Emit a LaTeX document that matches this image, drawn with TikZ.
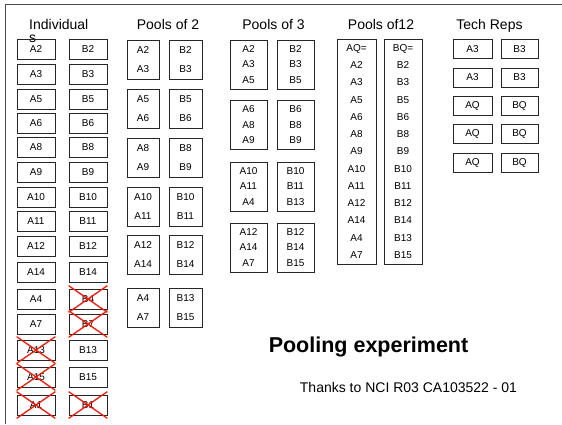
\documentclass[tikz,border=0pt]{standalone}
\usepackage{fontspec}
\setmainfont{Liberation Sans}
\begin{document}
\begin{tikzpicture}[x=1pt,y=-1pt,
  box/.style={draw=black!85, line width=0.75pt, inner sep=0pt, align=center},
  ind/.style={box, minimum width=38pt, minimum height=20pt, font=\fontsize{10}{12}\selectfont},
  pairbox/.style={box, minimum height=39pt, font=\fontsize{10}{19}\selectfont},
  tripbox/.style={box, minimum width=37pt, minimum height=49pt, font=\fontsize{10}{15.5}\selectfont},
  bigbox/.style={box, minimum height=225pt, font=\fontsize{10}{17.25}\selectfont},
  rep/.style={box, minimum height=19pt, font=\fontsize{10}{12}\selectfont},
  head/.style={inner sep=0pt, anchor=base, font=\fontsize{14}{13}\selectfont},
  strike/.style={draw=red!85!orange, line width=1.3pt},
  frame/.style={draw=black!70, line width=0.9pt}]
\useasboundingbox (0,0) rectangle (562,424);

% page frame (top and left edges)
\draw[frame] (5,424) -- (5,4) -- (562,4);

% column headings
\node[inner sep=0pt, anchor=north west, align=left,
      font=\fontsize{14}{13.5}\selectfont] (hInd) at (29,19) {Individual\\s};
\node[head] (hP2) at (168,29) {Pools of 2};
\node[head] (hP3) at (273.5,29) {Pools of 3};
\node[head] (hP12) at (381,29) {Pools of12};
\node[head] (hTR) at (489.5,29) {Tech Reps};

% individual samples
\foreach \l/\r/\y in {A2/B2/49, A3/B3/74, A5/B5/99, A6/B6/123, A8/B8/147.5,
    A9/B9/172, A10/B10/197, A11/B11/221.5, A12/B12/246.5, A14/B14/272,
    A4/B4/299, A7/B7/324, A13/B13/350, A15/B15/377, A1/B1/405} {
  \node[ind] (ind\l) at (36,\y) {\l};
  \node[ind] (ind\r) at (88,\y) {\r};
}

% excluded samples
\foreach \n in {indB4, indB7, indA13, indA15, indA1, indB1} {
  \draw[strike] ([shift={(0,-3)}]\n.north west) -- ([shift={(0,3)}]\n.south east)
                ([shift={(0,-3)}]\n.north east) -- ([shift={(0,3)}]\n.south west);
}

% pools of 2
\foreach \i/\l/\r/\y in {1/{A2\\A3}/{B2\\B3}/59.5, 2/{A5\\A6}/{B5\\B6}/108.5,
    3/{A8\\A9}/{B8\\B9}/157.5, 4/{A10\\A11}/{B10\\B11}/207,
    5/{A12\\A14}/{B12\\B14}/255, 6/{A4\\A7}/{B13\\B15}/308} {
  \node[pairbox, minimum width=32pt] (ptwoA\i) at (143,\y) {\l};
  \node[pairbox, minimum width=33pt] (ptwoB\i) at (185.5,\y) {\r};
}

% pools of 3
\foreach \i/\l/\r/\y in {1/{A2\\A3\\A5}/{B2\\B3\\B5}/64.5,
    2/{A6\\A8\\A9}/{B6\\B8\\B9}/125,
    3/{A10\\A11\\A4}/{B10\\B11\\B13}/186.5,
    4/{A12\\A14\\A7}/{B12\\B14\\B15}/247.5} {
  \node[tripbox] (pthreeA\i) at (248.5,\y) {\l};
  \node[tripbox] (pthreeB\i) at (295.5,\y) {\r};
}

% pools of 12
\node[bigbox, minimum width=39pt] (ptwelveA) at (356.5,151.5)
  {AQ=\\A2\\A3\\A5\\A6\\A8\\A9\\A10\\A11\\A12\\A14\\A4\\A7};
\node[bigbox, minimum width=38pt] (ptwelveB) at (403,151.5)
  {BQ=\\B2\\B3\\B5\\B6\\B8\\B9\\B10\\B11\\B12\\B14\\B13\\B15};

% technical replicates
\foreach \i/\l/\r/\y in {1/A3/B3/49, 2/A3/B3/77.5, 3/AQ/BQ/106, 4/AQ/BQ/134, 5/AQ/BQ/162.5} {
  \node[rep, minimum width=39pt] (repA\i) at (472.5,\y) {\l};
  \node[rep, minimum width=37pt] (repB\i) at (519.5,\y) {\r};
}

% title and acknowledgement
\node[inner sep=0pt, anchor=base, font=\fontsize{21.5}{24}\selectfont\bfseries]
  (title) at (368.5,352) {Pooling experiment};
\node[inner sep=0pt, anchor=base, font=\fontsize{14}{16}\selectfont]
  (thanks) at (408.5,392.5) {Thanks to NCI R03 CA103522 - 01};
\end{tikzpicture}
\end{document}
